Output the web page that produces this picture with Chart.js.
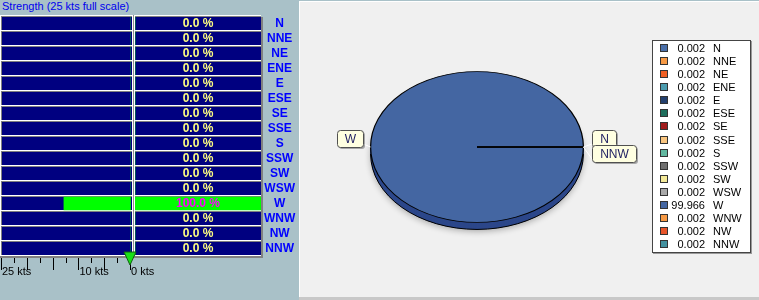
<!DOCTYPE html>
<html>
<head>
<meta charset="utf-8">
<script src="https://cdn.jsdelivr.net/npm/chart.js@4.4.0/dist/chart.umd.min.js"></script>
<style>
body { margin:0; width:759px; height:300px; overflow:hidden; background:#a9c1c8; position:relative; font-family:"Liberation Sans", Arial, sans-serif; }
canvas { position:absolute; left:0; top:0; }
#title { position:absolute; left:2px; top:1px; font-size:11px; line-height:11px; color:#0000ee; white-space:nowrap; }
#panel { position:absolute; left:299px; top:1px; width:459px; height:295px; background:#f0f0f0; border-left:1px solid #fff; border-top:1px solid #fff; }
#panelfoot { position:absolute; left:299px; top:297px; width:460px; height:3px; background:#c8c8c8; }
#legend { position:absolute; left:652px; top:40px; width:97px; height:211px; background:#fff; border:1px solid #444; box-shadow:1px 1px 0 #999; font-size:11px; color:#000; }
.row { position:absolute; left:0; width:97px; height:13px; line-height:13px; white-space:nowrap; }
.sw { position:absolute; left:7px; top:2px; width:6px; height:6px; border:1px solid #333; }
.val { position:absolute; left:18px; width:34px; text-align:right; }
.lab { position:absolute; left:60px; }
</style>
</head>
<body>
<div id="title">Strength (25 kts full scale)</div>
<div id="panel"></div>
<div id="panelfoot"></div>
<canvas id="pctChart" width="299" height="300"></canvas>
<canvas id="ktsChart" width="299" height="300"></canvas>
<canvas id="pieChart" width="350" height="300" style="left:300px"></canvas>
<div id="legend"></div>

<script>
var directions = ['N','NNE','NE','ENE','E','ESE','SE','SSE','S','SSW','SW','WSW','W','WNW','NW','NNW'];
var strengthKts = [0,0,0,0,0,0,0,0,0,0,0,0,13,0,0,0];
var percentValues = [0,0,0,0,0,0,0,0,0,0,0,0,100,0,0,0];
var pieValues = [0.002,0.002,0.002,0.002,0.002,0.002,0.002,0.002,0.002,0.002,0.002,0.002,99.966,0.002,0.002,0.002];
var pieColors = ['#4a6fa9','#f79a45','#ef5f23','#4b9bae','#233f6e','#1e6e5c','#a01c1c','#f9c57f',
                 '#62b8a0','#6f6f6f','#f3e998','#a9a9a9','#4466a2','#f79a45','#e8552a','#43919f'];
var ktsMax = 25;
var ktsStep = 2.5;
var ktsLabelled = [25, 10, 0];
var currentKts = 0;
var pieCallouts = ['N', 'W', 'NNW'];

var NAVY = '#000080';
var tilt = 0.709;
var depth = 7;

// darker tone for the pie wall
function shade(hex) {
  var n = parseInt(hex.slice(1), 16);
  var r = Math.round(((n >> 16) & 255) * 0.65), g = Math.round(((n >> 8) & 255) * 0.7), b = Math.round((n & 255) * 0.85);
  return 'rgb(' + r + ',' + g + ',' + b + ')';
}

// left column: strength bars, navy cells, scale ticks and pointer
var ktsCells = {
  id: 'ktsCells',
  beforeDatasetsDraw: function(chart) {
    var ctx = chart.ctx, a = chart.chartArea, y = chart.scales.y;
    ctx.save();
    ctx.fillStyle = '#fff';
    ctx.fillRect(0, a.top - 1, a.right + 4, a.bottom - a.top + 1);
    directions.forEach(function(d, i) {
      var yc = y.getPixelForValue(i);
      ctx.fillStyle = '#808080';
      ctx.fillRect(a.left - 1, yc - 7.5, a.right - a.left + 2, 14);
      ctx.fillStyle = NAVY;
      ctx.fillRect(a.left, yc - 6.5, a.right - a.left + 1, 13);
    });
    ctx.fillStyle = '#909090';
    ctx.fillRect(a.right + 2, a.top - 1, 1, a.bottom - a.top + 1);
    ctx.restore();
  },
  afterDraw: function(chart) {
    var ctx = chart.ctx, a = chart.chartArea, x = chart.scales.x;
    ctx.save();
    ctx.fillStyle = '#808080';
    ctx.fillRect(0, a.bottom, a.right + 4, 2);
    ctx.strokeStyle = '#000';
    ctx.lineWidth = 1;
    for (var v = 0; v <= ktsMax; v += ktsStep) {
      var px = Math.round(x.getPixelForValue(v)) - 0.5;
      var len = v % 5 === 0 ? 12 : 5;
      ctx.beginPath();
      ctx.moveTo(px, a.bottom + 2);
      ctx.lineTo(px, a.bottom + 2 + len);
      ctx.stroke();
    }
    var tx = x.getPixelForValue(currentKts) - 1;
    ctx.beginPath();
    ctx.moveTo(tx - 6, a.bottom - 4);
    ctx.lineTo(tx + 6, a.bottom - 4);
    ctx.lineTo(tx, a.bottom + 9);
    ctx.closePath();
    ctx.fillStyle = '#18e018';
    ctx.fill();
    ctx.strokeStyle = '#106010';
    ctx.stroke();
    ctx.restore();
  }
};

// right column: percentage cells and their text
var pctCells = {
  id: 'pctCells',
  beforeDatasetsDraw: function(chart) {
    var ctx = chart.ctx, a = chart.chartArea, y = chart.scales.y;
    ctx.save();
    ctx.fillStyle = '#fff';
    ctx.fillRect(a.left - 2, a.top - 1, a.right - a.left + 2, a.bottom - a.top + 1);
    directions.forEach(function(d, i) {
      var yc = y.getPixelForValue(i);
      ctx.fillStyle = '#808080';
      ctx.fillRect(a.left - 1, yc - 7.5, a.right - a.left + 1, 14);
      ctx.fillStyle = NAVY;
      ctx.fillRect(a.left, yc - 6.5, a.right - a.left, 13);
    });
    ctx.fillStyle = '#808080';
    ctx.fillRect(a.right, a.top + 1, 2, a.bottom - a.top + 1);
    ctx.fillRect(a.left - 2, a.bottom, a.right - a.left + 4, 2);
    ctx.restore();
  },
  afterDatasetsDraw: function(chart) {
    var ctx = chart.ctx, a = chart.chartArea, y = chart.scales.y;
    ctx.save();
    ctx.font = 'bold 12px "Liberation Sans", Arial, sans-serif';
    ctx.textAlign = 'center';
    ctx.textBaseline = 'middle';
    percentValues.forEach(function(p, i) {
      ctx.fillStyle = p > 0 ? '#ff00ff' : '#ffff80';
      ctx.fillText(p.toFixed(1) + ' %', (a.left + a.right) / 2, y.getPixelForValue(i) + 0.5);
    });
    ctx.restore();
  }
};

new Chart('ktsChart', {
  type: 'bar',
  data: {
    labels: directions,
    datasets: [{ data: strengthKts, backgroundColor: '#00ff00', barThickness: 13, borderWidth: 0 }]
  },
  options: {
    indexAxis: 'y',
    responsive: false,
    animation: false,
    events: [],
    layout: { padding: { left: 2, right: 168, top: 16, bottom: 21.8 } },
    plugins: { legend: { display: false }, tooltip: { enabled: false } },
    scales: {
      x: {
        min: 0, max: ktsMax, reverse: true,
        grid: { display: true, drawOnChartArea: false, drawTicks: true, tickLength: 9, color: 'rgba(0,0,0,0)' },
        border: { display: false },
        ticks: {
          stepSize: ktsStep, autoSkip: false, maxRotation: 0, align: 'start', padding: 0,
          color: '#000', font: { size: 11, family: '"Liberation Sans", Arial, sans-serif' },
          callback: function(v) { return ktsLabelled.indexOf(v) >= 0 ? v + ' kts' : ''; }
        }
      },
      y: { display: false }
    }
  },
  plugins: [ktsCells]
});

new Chart('pctChart', {
  type: 'bar',
  data: {
    labels: directions,
    datasets: [{ data: percentValues, backgroundColor: '#00ff00', barThickness: 13, borderWidth: 0 }]
  },
  options: {
    indexAxis: 'y',
    responsive: false,
    animation: false,
    events: [],
    layout: { padding: { left: 135, right: 0.7, top: 16, bottom: 44 } },
    plugins: { legend: { display: false }, tooltip: { enabled: false } },
    scales: {
      x: { display: false, min: 0, max: 100 },
      y: {
        position: 'right',
        grid: { display: false, drawTicks: false },
        border: { display: false },
        ticks: {
          autoSkip: false, crossAlign: 'center', padding: 3, color: '#0000ff',
          font: { size: 12, weight: 'bold', family: '"Liberation Sans", Arial, sans-serif' }
        }
      }
    }
  },
  plugins: [pctCells]
});

// pie: tilted face, side wall and callout boxes
var pie3d = {
  id: 'pie3d',
  beforeDatasetsDraw: function(chart) {
    var ctx = chart.ctx, arcs = chart.getDatasetMeta(0).data;
    var cx = arcs[0].x, cy = arcs[0].y, r = arcs[0].outerRadius;
    ctx.save();
    ctx.shadowColor = 'rgba(0,0,0,0.3)';
    ctx.shadowBlur = 6;
    ctx.shadowOffsetY = 2;
    ctx.beginPath();
    ctx.ellipse(cx, cy + depth, r, r * tilt, 0, 0, Math.PI * 2);
    ctx.fillStyle = shade(pieColors[12]);
    ctx.fill();
    ctx.restore();
    for (var d = depth; d >= 1; d--) {
      arcs.forEach(function(el, i) {
        ctx.beginPath();
        ctx.moveTo(cx, cy + d);
        ctx.ellipse(cx, cy + d, r, r * tilt, 0, el.startAngle, el.endAngle);
        ctx.closePath();
        ctx.fillStyle = shade(pieColors[i]);
        ctx.fill();
      });
    }
    ctx.beginPath();
    ctx.ellipse(cx, cy + depth, r, r * tilt, 0, 0, Math.PI);
    ctx.strokeStyle = '#000';
    ctx.lineWidth = 1;
    ctx.stroke();
    ctx.save();
    ctx.translate(0, cy * (1 - tilt));
    ctx.scale(1, tilt);
  },
  afterDatasetsDraw: function(chart) {
    chart.ctx.restore();
  },
  afterDraw: function(chart) {
    var ctx = chart.ctx, arcs = chart.getDatasetMeta(0).data;
    var cx = arcs[0].x, cy = arcs[0].y, r = arcs[0].outerRadius;
    var placed = [];
    ctx.save();
    ctx.font = '12px "Liberation Sans", Arial, sans-serif';
    pieCallouts.forEach(function(name) {
      var el = arcs[directions.indexOf(name)];
      var mid = (el.startAngle + el.endAngle) / 2;
      var ax = cx + r * Math.cos(mid), ay = cy + r * tilt * Math.sin(mid);
      var right = Math.cos(mid) >= 0;
      var w = Math.round(ctx.measureText(name).width) + 15, h = 17;
      var bx = right ? Math.round(ax + 9) : Math.round(ax - 8 - w);
      var by = Math.round(ay - h);
      placed.forEach(function(p) {
        if (p.right === right && by < p.y + p.h - 1 && by + h > p.y) by = p.y + p.h - 2;
      });
      placed.push({ right: right, y: by, h: h });
      ctx.strokeStyle = '#fff';
      ctx.lineWidth = 1;
      ctx.beginPath();
      ctx.moveTo(ax, ay);
      ctx.lineTo(right ? bx : bx + w, by + h - 3);
      ctx.stroke();
      ctx.fillStyle = 'rgba(0,0,0,0.3)';
      ctx.beginPath();
      ctx.roundRect(bx + 2, by + 2, w, h, 3);
      ctx.fill();
      ctx.fillStyle = '#ffffe1';
      ctx.strokeStyle = '#505050';
      ctx.beginPath();
      ctx.roundRect(bx + 0.5, by + 0.5, w, h, 3);
      ctx.fill();
      ctx.stroke();
      ctx.fillStyle = '#1c1c60';
      ctx.textAlign = 'center';
      ctx.textBaseline = 'middle';
      ctx.fillText(name, bx + 0.5 + w / 2, by + h / 2 + 1);
    });
    ctx.restore();
  }
};

new Chart('pieChart', {
  type: 'pie',
  data: {
    labels: directions,
    datasets: [{ data: pieValues, backgroundColor: pieColors, borderColor: '#000', borderWidth: 1.2, clip: false }]
  },
  options: {
    responsive: false,
    animation: false,
    events: [],
    rotation: 90,
    layout: { padding: { left: 70, right: 66, top: 40, bottom: 46 } },
    plugins: { legend: { display: false }, tooltip: { enabled: false } }
  },
  plugins: [pie3d]
});

var legend = document.getElementById('legend');
directions.forEach(function(d, i) {
  var row = document.createElement('div');
  row.className = 'row';
  row.style.top = (0.8 + 13.1 * i) + 'px';
  row.innerHTML = '<span class="sw" style="background:' + pieColors[i] + '"></span>' +
    '<span class="val">' + pieValues[i].toFixed(3) + '</span><span class="lab">' + d + '</span>';
  legend.appendChild(row);
});
</script>
</body>
</html>
